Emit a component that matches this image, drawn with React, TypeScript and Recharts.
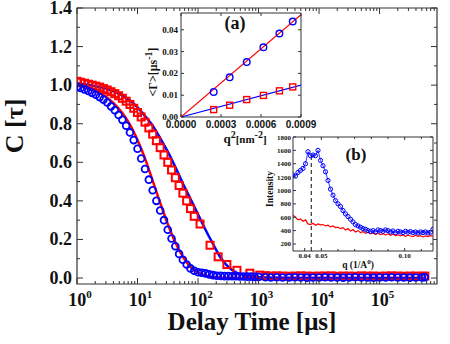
import {
  ComposedChart,
  Line,
  ReferenceArea,
  ReferenceLine,
  Scatter,
  XAxis,
  YAxis,
} from "recharts";

// ---- main panel: correlation functions ----
const tauFast = [
  1, 1.15, 1.33, 1.54, 1.78, 2.05, 2.37, 2.74, 3.16, 3.65, 4.22, 4.87, 5.62,
  6.49, 7.5, 8.66, 10, 11.5, 13.3, 15.4, 17.8, 20.5, 23.7, 27.4, 31.6, 36.5,
  42.2, 48.7, 56.2, 64.9, 75, 86.6, 100, 115, 133, 154, 178, 205, 237, 274,
  316, 365, 422, 487, 562, 649, 750, 866, 1000, 1300, 1600, 2000, 2500, 3200,
  4000, 5000, 6300, 7900, 10000, 12600, 15800, 20000, 25100, 31600, 39800,
  50100, 63100, 79400, 100000, 126000, 158000, 200000, 251000, 316000, 398000,
  501000, 560000,
];
const cFast = [
  0.99, 0.985, 0.978, 0.97, 0.96, 0.95, 0.938, 0.925, 0.91, 0.89, 0.87, 0.845,
  0.82, 0.79, 0.755, 0.715, 0.67, 0.62, 0.565, 0.51, 0.455, 0.4, 0.35, 0.3,
  0.25, 0.205, 0.165, 0.125, 0.095, 0.07, 0.05, 0.038, 0.03, 0.027, 0.024,
  0.019, 0.015, 0.012, 0.011, 0.01, 0.01, 0.009, 0.009, 0.008, 0.008, 0.007,
  0.007, 0.006, 0.006, 0.004, 0.003, 0.004, 0.003, 0.003, 0.004, 0.003, 0.002,
  0.003, 0.003, 0.004, 0.003, 0.003, 0.002, 0.003, 0.004, 0.003, 0.003, 0.002,
  0.003, 0.003, 0.004, 0.003, 0.003, 0.002, 0.003, 0.003, 0.004,
];

const tauSlow = [
  1, 1.15, 1.33, 1.54, 1.78, 2.05, 2.37, 2.74, 3.16, 3.65, 4.22, 4.87, 5.62,
  6.49, 7.5, 8.66, 10, 11.5, 13.3, 15.4, 17.8, 20.5, 23.7, 27.4, 31.6, 36.5,
  42.2, 48.7, 56.2, 64.9, 75, 86.6, 108, 158, 215, 300, 440, 720, 1050, 1300,
  1600, 2000, 2500, 3200, 4000, 5000, 6300, 7900, 10000, 12600, 15800, 20000,
  25100, 31600, 39800, 50100, 63100, 79400, 100000, 126000, 158000, 200000,
  251000, 316000, 398000, 501000, 560000,
];
const cSlow = [
  1.02, 1.015, 1.01, 1.005, 1.0, 0.995, 0.99, 0.982, 0.975, 0.966, 0.956, 0.945,
  0.932, 0.917, 0.9, 0.88, 0.858, 0.835, 0.808, 0.778, 0.746, 0.712, 0.676,
  0.638, 0.6, 0.56, 0.52, 0.48, 0.44, 0.4, 0.36, 0.32, 0.28, 0.17, 0.11, 0.07,
  0.04, 0.025, 0.015, 0.012, 0.01, 0.011, 0.01, 0.009, 0.01, 0.011, 0.01,
  0.009, 0.01, 0.01, 0.011, 0.009, 0.01, 0.01, 0.009, 0.011, 0.01, 0.01, 0.009,
  0.01, 0.011, 0.01, 0.009, 0.01, 0.01, 0.009, 0.01,
];

// fit curves
const tauSlowFit = [
  1, 2, 3.16, 5, 7.5, 10, 13.3, 17.8, 23.7, 31.6, 42.2, 56.2, 75, 100, 133, 178,
  237, 316, 422, 562, 750, 1000, 2000, 5000, 560000,
];
const cSlowFit = [
  1.01, 0.995, 0.98, 0.955, 0.92, 0.885, 0.84, 0.79, 0.725, 0.655, 0.575, 0.49,
  0.41, 0.33, 0.25, 0.175, 0.105, 0.058, 0.03, 0.015, 0.008, 0.004, 0.001, 0, 0,
];
const tauFastFit = [
  1, 1.78, 3.16, 4.22, 5.62, 7.5, 10, 13.3, 17.8, 23.7, 31.6, 42.2, 56.2, 75,
  100, 133, 178, 237, 316, 1000, 560000,
];
const cFastFit = [
  1.0, 0.975, 0.935, 0.9, 0.855, 0.795, 0.715, 0.62, 0.505, 0.39, 0.28, 0.185,
  0.11, 0.058, 0.028, 0.012, 0.005, 0.002, 0.001, 0, 0,
];

const xMajor = [1, 10, 100, 1000, 10000, 100000];
const xExponents = ["0", "1", "2", "3", "4", "5"];
const yTicks = [0, 0.1, 0.2, 0.3, 0.4, 0.5, 0.6, 0.7, 0.8, 0.9, 1.0, 1.1, 1.2, 1.3, 1.4];
const yMajor = [0, 0.2, 0.4, 0.6, 0.8, 1.0, 1.2, 1.4];

// ---- inset (a): decay rate vs q^2 ----
const aQ2 = [0.000245, 0.000365, 0.000493, 0.000618, 0.000738, 0.000838];
const aCircles = [0.0115, 0.0182, 0.0252, 0.032, 0.0383, 0.0438];
const aSquares = [0.0034, 0.0054, 0.008, 0.0099, 0.012, 0.0138];
const aFitQ2 = [0, 0.0009];
const aRedFit = [0, 0.0469];
const aBlueFit = [0, 0.0146];
const aXTicks = [0, 0.0003, 0.0006, 0.0009];
const aXLabels = ["0.0000", "0.0003", "0.0006", "0.0009"];
const aYTicks = [0, 0.01, 0.02, 0.03, 0.04];
const aYLabels = ["0.00", "0.01", "0.02", "0.03", "0.04"];

// ---- inset (b): intensity vs q ----
const bQ = [
  0.033, 0.0345, 0.036, 0.0375, 0.039, 0.0405, 0.042, 0.0435, 0.045, 0.0465,
  0.048, 0.0495, 0.051, 0.0525, 0.054, 0.0555, 0.057, 0.0585, 0.06, 0.0615,
  0.063, 0.0645, 0.066, 0.0675, 0.069, 0.0705, 0.072, 0.0735, 0.075, 0.0765,
  0.078, 0.0795, 0.081, 0.0825, 0.084, 0.0855, 0.087, 0.0885, 0.09, 0.0915,
  0.093, 0.0945, 0.096, 0.0975, 0.099, 0.1005, 0.102, 0.1035, 0.105, 0.1065,
  0.108, 0.1095, 0.111, 0.1125, 0.114, 0.1155, 0.117,
];
const bBlue = [
  1230, 1215, 1270, 1300, 1330, 1400, 1580, 1520, 1530, 1520,
  1600, 1450, 1370, 1280, 1150, 1020, 930, 850, 800, 760,
  700, 650, 610, 570, 530, 490, 470, 450, 430, 420,
  400, 390, 400, 380, 410, 400, 390, 410, 400, 380,
  395, 370, 390, 380, 370, 390, 375, 385, 370, 380,
  365, 380, 370, 380, 365, 375, 420,
];
const bRed = [
  630, 600, 560, 575, 540, 560, 500, 490, 510, 480,
  500, 485, 490, 470, 480, 455, 470, 445, 450, 430,
  445, 410, 430, 395, 415, 380, 400, 370, 385, 360,
  375, 350, 365, 345, 360, 340, 355, 335, 350, 330,
  345, 325, 340, 320, 335, 315, 330, 320, 310, 330,
  315, 325, 305, 320, 310, 325, 315,
];
const bPeakQ = 0.044;
const bYTicks = [200, 400, 600, 800, 1000, 1200, 1400, 1600, 1800];
const bXTicks = [0.04, 0.05, 0.06, 0.07, 0.08, 0.09, 0.1, 0.11];
const bXLabels: Record<string, string> = { "0.04": "0.04", "0.05": "0.05", "0.1": "0.10" };

const SERIF = '"Liberation Serif", "Times New Roman", serif';
const SANS = '"Liberation Sans", Arial, sans-serif';
const RED = "#ff0000";
const BLUE = "#0000ff";
const AX = "#333";

const zip = (xs: number[], ys: number[]) => xs.map((x, i) => ({ x, y: ys[i] }));

// plot boxes in page px; inset boxes given in their own chart's coords
const M = { l: 77, r: 437, t: 8, b: 284 };
const AO = { x: 120, y: 0, w: 210, h: 140 };
const A = { l: 61, r: 181, t: 13, b: 117 }; // page: 181..301, 13..117
const BO = { x: 240, y: 125, w: 205, h: 140 };
const B = { l: 53, r: 193, t: 12, b: 126 }; // page: 293..433, 137..251
const X_MAX = 890000;
const Y_MIN = -0.031;

function MainXTick({ x, payload }: any) {
  const idx = xMajor.indexOf(payload.value);
  const len = idx >= 0 ? 6 : 3;
  return (
    <g>
      <line x1={x} x2={x} y1={M.b} y2={M.b - len} stroke={AX} />
      <line x1={x} x2={x} y1={M.t} y2={M.t + len} stroke={AX} />
      {idx >= 0 && (
        <text x={x + 3} y={306} textAnchor="middle" fontFamily={SERIF} fontWeight="bold" fontSize={18} fill="#111">
          10<tspan dy={-8} fontSize={11}>{xExponents[idx]}</tspan>
        </text>
      )}
    </g>
  );
}

function MainYTick({ y, payload }: any) {
  const major = yMajor.some((m) => Math.abs(m - payload.value) < 1e-6);
  const len = major ? 6 : 3;
  return (
    <g>
      <line x1={M.l} x2={M.l + len} y1={y} y2={y} stroke={AX} />
      <line x1={M.r} x2={M.r - len} y1={y} y2={y} stroke={AX} />
      {major && (
        <text x={72} y={y + 6} textAnchor="end" fontFamily={SERIF} fontWeight="bold" fontSize={18} fill="#111">
          {payload.value.toFixed(1)}
        </text>
      )}
    </g>
  );
}

function AXTick({ x, payload }: any) {
  const idx = aXTicks.indexOf(payload.value);
  return (
    <g>
      <line x1={x} x2={x} y1={A.b} y2={A.b - 3} stroke={AX} />
      <line x1={x} x2={x} y1={A.t} y2={A.t + 3} stroke={AX} />
      <text x={x} y={A.b + 11} textAnchor="middle" fontFamily={SANS} fontWeight="bold" fontSize={10} fill="#111">
        {aXLabels[idx]}
      </text>
    </g>
  );
}

function AYTick({ y, payload }: any) {
  const idx = aYTicks.indexOf(payload.value);
  return (
    <g>
      <line x1={A.l} x2={A.l + 3} y1={y} y2={y} stroke={AX} />
      <line x1={A.r} x2={A.r - 3} y1={y} y2={y} stroke={AX} />
      <text x={A.l - 3} y={y + 3} textAnchor="end" fontFamily={SERIF} fontWeight="bold" fontSize={9} fill="#111">
        {aYLabels[idx]}
      </text>
    </g>
  );
}

function BXTick({ x, payload }: any) {
  const label = bXLabels[String(payload.value)];
  const len = label ? 3 : 2;
  return (
    <g>
      <line x1={x} x2={x} y1={B.b} y2={B.b - len} stroke={AX} />
      <line x1={x} x2={x} y1={B.t} y2={B.t + len} stroke={AX} />
      {label && (
        <text x={x} y={B.b + 7} textAnchor="middle" fontFamily={SERIF} fontWeight="bold" fontSize={7} fill="#111">
          {label}
        </text>
      )}
    </g>
  );
}

function BYTick({ y, payload }: any) {
  return (
    <g>
      <line x1={B.l} x2={B.l + 3} y1={y} y2={y} stroke={AX} />
      <line x1={B.r} x2={B.r - 3} y1={y} y2={y} stroke={AX} />
      <text x={B.l - 2} y={y + 2.5} textAnchor="end" fontFamily={SERIF} fontWeight="bold" fontSize={7} fill="#111">
        {payload.value}
      </text>
    </g>
  );
}

const square = (s: number, w: number) => (p: any) => (
  <rect x={p.cx - s / 2} y={p.cy - s / 2} width={s} height={s} fill="none" stroke={RED} strokeWidth={w} />
);
const circle = (r: number, w: number) => (p: any) => (
  <circle cx={p.cx} cy={p.cy} r={r} fill="none" stroke={BLUE} strokeWidth={w} />
);

export default function App() {
  return (
    <div style={{ position: "absolute", left: 0, top: 0, width: 450, height: 344, background: "#fff" }}>
      {/* main chart */}
      <div style={{ position: "absolute", left: 0, top: 0 }}>
        <ComposedChart width={450} height={344} margin={{ top: M.t, right: 450 - M.r, bottom: 0, left: 0 }}>
          <XAxis
            dataKey="x"
            type="number"
            scale="log"
            domain={[1, X_MAX]}
            allowDataOverflow
            ticks={xMajor.flatMap((d) => [1, 2, 3, 4, 5, 6, 7, 8, 9].map((m) => m * d)).filter((v) => v <= X_MAX)}
            interval={0}
            height={344 - M.b}
            tickLine={false}
            axisLine={false}
            tick={<MainXTick />}
          />
          <YAxis
            dataKey="y"
            type="number"
            domain={[Y_MIN, 1.4]}
            allowDataOverflow
            ticks={yTicks}
            interval={0}
            width={M.l}
            tickLine={false}
            axisLine={false}
            tick={<MainYTick />}
          />
          <ReferenceArea x1={1} x2={X_MAX} y1={Y_MIN} y2={1.4} fill="none" stroke={AX} strokeWidth={1.2} />
          <Scatter data={zip(tauSlow, cSlow)} shape={square(7, 2)} isAnimationActive={false} />
          <Scatter data={zip(tauFast, cFast)} shape={circle(3.4, 1.8)} isAnimationActive={false} />
          <Line data={zip(tauFastFit, cFastFit)} dataKey="y" type="monotone" stroke={RED} strokeWidth={2.5} dot={false} isAnimationActive={false} />
          <Line data={zip(tauSlowFit, cSlowFit)} dataKey="y" type="monotone" stroke={BLUE} strokeWidth={2.5} dot={false} isAnimationActive={false} />
        </ComposedChart>
      </div>

      {/* inset (a) */}
      <div style={{ position: "absolute", left: AO.x + A.l, top: AO.y + A.t, width: A.r - A.l, height: A.b - A.t, background: "#fff" }} />
      <div style={{ position: "absolute", left: AO.x, top: AO.y }}>
        <ComposedChart width={AO.w} height={AO.h} margin={{ top: A.t, right: AO.w - A.r, bottom: 0, left: 0 }}>
          <XAxis dataKey="x" type="number" domain={[0, 0.0009]} allowDataOverflow ticks={aXTicks} interval={0}
            height={AO.h - A.b} tickLine={false} axisLine={false} tick={<AXTick />} />
          <YAxis dataKey="y" type="number" domain={[0, 0.0477]} allowDataOverflow ticks={aYTicks} interval={0}
            width={A.l} tickLine={false} axisLine={false} tick={<AYTick />} />
          <ReferenceArea x1={0} x2={0.0009} y1={0} y2={0.0477} fill="none" stroke={AX} strokeWidth={1} />
          <Line data={zip(aFitQ2, aRedFit)} dataKey="y" type="linear" stroke={RED} strokeWidth={1.2} dot={false} isAnimationActive={false} />
          <Line data={zip(aFitQ2, aBlueFit)} dataKey="y" type="linear" stroke={BLUE} strokeWidth={1.2} dot={false} isAnimationActive={false} />
          <Scatter data={zip(aQ2, aCircles)} shape={circle(3.3, 1.4)} isAnimationActive={false} />
          <Scatter data={zip(aQ2, aSquares)} shape={square(6, 1.4)} isAnimationActive={false} />
        </ComposedChart>
      </div>

      {/* inset (b) */}
      <div style={{ position: "absolute", left: BO.x + B.l, top: BO.y + B.t, width: B.r - B.l, height: B.b - B.t, background: "#fff" }} />
      <div style={{ position: "absolute", left: BO.x, top: BO.y }}>
        <ComposedChart width={BO.w} height={BO.h} margin={{ top: B.t, right: BO.w - B.r, bottom: 0, left: 0 }}>
          <XAxis dataKey="x" type="number" domain={[0.033, 0.117]} allowDataOverflow ticks={bXTicks} interval={0}
            height={BO.h - B.b} tickLine={false} axisLine={false} tick={<BXTick />} />
          <YAxis dataKey="y" type="number" domain={[95, 1800]} allowDataOverflow ticks={bYTicks} interval={0}
            width={B.l} tickLine={false} axisLine={false} tick={<BYTick />} />
          <ReferenceArea x1={0.033} x2={0.117} y1={95} y2={1800} fill="none" stroke={AX} strokeWidth={1} />
          <Line data={zip(bQ, bRed)} dataKey="y" type="linear" stroke={RED} strokeWidth={1.2} dot={false} isAnimationActive={false} />
          <Line data={zip(bQ, bBlue)} dataKey="y" type="linear" stroke={BLUE} strokeWidth={0.8} dot={false} isAnimationActive={false} />
          <Scatter data={zip(bQ, bBlue)} shape={circle(2.1, 1)} isAnimationActive={false} />
          <ReferenceLine segment={[{ x: bPeakQ, y: 95 }, { x: bPeakQ, y: 1530 }]} stroke="#444" strokeWidth={1.3} strokeDasharray="4 3" />
        </ComposedChart>
      </div>

      {/* axis titles */}
      <svg width={450} height={344} style={{ position: "absolute", left: 0, top: 0, pointerEvents: "none" }}>
        <g fontFamily={SERIF} fontWeight="bold" fill="#111">
          <text x={23} y={126} fontSize={26} textAnchor="middle" transform="rotate(-90 23 126)">C [τ]</text>
          <text x={252} y={330} fontSize={25} textAnchor="middle">Delay Time [μs]</text>
          <text x={235} y={29} fontSize={18} textAnchor="middle">(a)</text>
          <text x={157} y={72} fontSize={12} textAnchor="middle" transform="rotate(-90 157 72)">
            {"<Γ>[μs"}<tspan dy={-5} fontSize={10}>-1</tspan><tspan dy={5}>]</tspan>
          </text>
          <text x={245} y={143} fontSize={13} textAnchor="middle">
            q<tspan dy={-5} fontSize={10}>2</tspan><tspan dy={5} fontSize={11}>[nm</tspan><tspan dy={-5} fontSize={10}>-2</tspan><tspan dy={5} fontSize={11}>]</tspan>
          </text>
          <text x={273} y={189} fontSize={9.5} textAnchor="middle" transform="rotate(-90 273 189)">Intensity</text>
          <text x={358} y={268} fontSize={9.5} textAnchor="middle">
            q (1/A<tspan dy={-4} fontSize={7}>0</tspan><tspan dy={4}>)</tspan>
          </text>
          <text x={356} y={160} fontSize={17} textAnchor="middle">(b)</text>
        </g>
      </svg>
    </div>
  );
}
